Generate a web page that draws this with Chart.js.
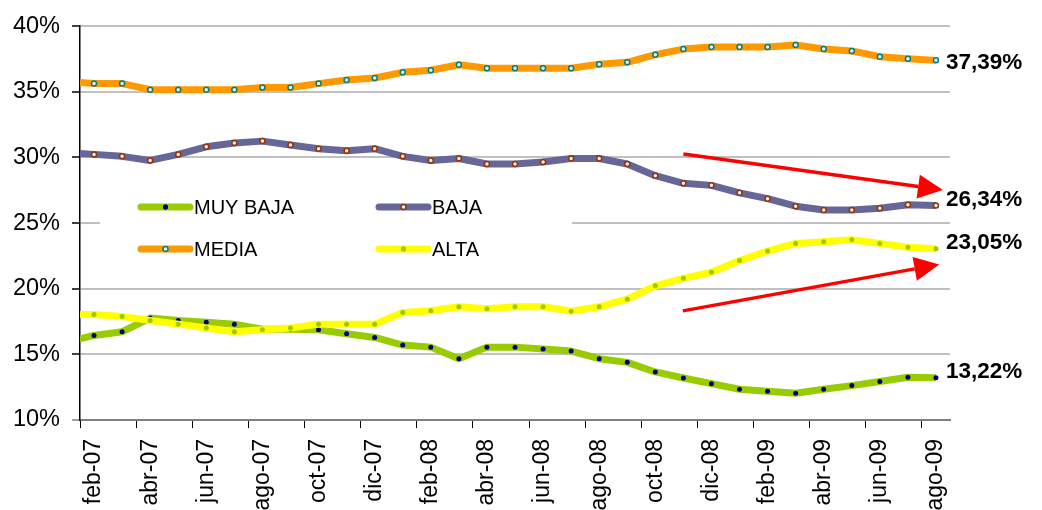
<!DOCTYPE html>
<html>
<head>
<meta charset="utf-8">
<script src="https://cdn.jsdelivr.net/npm/chart.js@4.4.1/dist/chart.umd.min.js"></script>
<style>
  body { margin: 0; background: #fff; }
  #wrap { width: 1042px; height: 510px; }
</style>
</head>
<body>
<div id="wrap"><canvas id="chart"></canvas></div>
<script>
// months (ene-07 only feeds the line stub that enters from the left edge)
const months = ['ene-07', 'feb-07', 'mar-07', 'abr-07', 'may-07', 'jun-07', 'jul-07', 'ago-07', 'sep-07', 'oct-07', 'nov-07', 'dic-07',
    'ene-08', 'feb-08', 'mar-08', 'abr-08', 'may-08', 'jun-08', 'jul-08', 'ago-08', 'sep-08', 'oct-08', 'nov-08', 'dic-08',
    'ene-09', 'feb-09', 'mar-09', 'abr-09', 'may-09', 'jun-09', 'jul-09', 'ago-09'];

const muyBaja = [15.94, 16.44, 16.72, 17.76, 17.58, 17.45, 17.30, 16.92, 16.92, 16.87, 16.57, 16.29, 15.71, 15.55, 14.67, 15.55,
    15.55, 15.40, 15.25, 14.67, 14.39, 13.66, 13.20, 12.77, 12.34, 12.19, 12.04, 12.34, 12.62, 12.93, 13.25, 13.22];
const baja = [30.38, 30.23, 30.08, 29.77, 30.23, 30.81, 31.09, 31.24, 30.94, 30.66, 30.51, 30.66, 30.08, 29.77, 29.92, 29.50,
    29.50, 29.65, 29.92, 29.92, 29.50, 28.61, 28.03, 27.87, 27.30, 26.86, 26.28, 26.00, 26.00, 26.13, 26.40, 26.34];
const media = [35.78, 35.62, 35.62, 35.16, 35.16, 35.16, 35.16, 35.32, 35.32, 35.62, 35.90, 36.05, 36.48, 36.64, 37.06, 36.79,
    36.79, 36.79, 36.79, 37.09, 37.24, 37.82, 38.25, 38.41, 38.41, 38.41, 38.56, 38.25, 38.10, 37.67, 37.52, 37.39];
const alta = [18.04, 18.04, 17.89, 17.58, 17.30, 17.00, 16.72, 16.87, 17.00, 17.30, 17.30, 17.30, 18.19, 18.32, 18.62, 18.47,
    18.62, 18.62, 18.29, 18.62, 19.20, 20.22, 20.79, 21.25, 22.14, 22.87, 23.45, 23.58, 23.73, 23.45, 23.15, 23.05];

const yTicks = [10, 15, 20, 25, 30, 35, 40];

// red trend arrows, [x index, value] from -> to
const trendArrows = [
    { from: [22.0, 30.26], to: [31.25, 27.52] },
    { from: [21.98, 18.31], to: [31.12, 21.85] }
];

const FONT = '"Liberation Sans", Arial, sans-serif';
Chart.defaults.font.family = FONT;
Chart.defaults.color = '#000';

function series(label, data, line, marker, ring, order) {
    return {
        label: label,
        data: data,
        borderColor: line,
        backgroundColor: line,
        borderWidth: 7,
        borderJoinStyle: 'round',
        tension: 0,
        pointRadius: 2.5,
        pointBorderWidth: ring ? 1.5 : 0,
        pointBackgroundColor: ring ? '#e8f0f0' : marker,
        pointBorderColor: marker,
        clip: 0,
        order: order
    };
}

// legend drawn inside the plot, two columns
const innerLegend = {
    id: 'innerLegend',
    beforeDatasetsDraw(chart) {
        const { ctx, chartArea } = chart;
        const x0 = chartArea.left + 61;
        const y0 = chartArea.top + 181;
        ctx.save();
        ctx.fillStyle = '#fff';
        ctx.fillRect(chartArea.left + 20, chartArea.top + 158, 472, 88);
        const slots = [[0, 0], [1, 0], [0, 1], [1, 1]];
        chart.data.datasets.forEach((ds, i) => {
            const x = x0 + slots[i][0] * 238;
            const y = y0 + slots[i][1] * 42;
            ctx.strokeStyle = ds.borderColor;
            ctx.lineWidth = 7;
            ctx.lineCap = 'round';
            ctx.beginPath();
            ctx.moveTo(x, y);
            ctx.lineTo(x + 49, y);
            ctx.stroke();
            ctx.beginPath();
            ctx.arc(x + 24.5, y, 2.5, 0, Math.PI * 2);
            ctx.fillStyle = ds.pointBackgroundColor;
            ctx.fill();
            if (ds.pointBorderWidth) {
                ctx.lineWidth = 1.5;
                ctx.strokeStyle = ds.pointBorderColor;
                ctx.stroke();
            } else {
                ctx.fillStyle = ds.pointBorderColor;
                ctx.fill();
            }
            ctx.fillStyle = '#000';
            ctx.font = '20px ' + FONT;
            ctx.textBaseline = 'middle';
            ctx.fillText(ds.label, x + 53, y + 1);
        });
        ctx.restore();
    }
};

// end value labels and the two red arrows
const annotations = {
    id: 'annotations',
    afterDatasetsDraw(chart) {
        const { ctx, scales } = chart;
        ctx.save();
        ctx.font = 'bold 22.5px ' + FONT;
        ctx.fillStyle = '#000';
        ctx.textBaseline = 'middle';
        chart.data.datasets.forEach((ds, i) => {
            const pts = chart.getDatasetMeta(i).data;
            const last = pts[pts.length - 1];
            const v = ds.data[ds.data.length - 1];
            const dy = ds.label === 'MEDIA' ? 2 : -6;
            ctx.fillText(v.toFixed(2).replace('.', ',') + '%', last.x + 10, last.y + dy);
        });

        ctx.strokeStyle = '#ff0000';
        ctx.fillStyle = '#ff0000';
        trendArrows.forEach(a => {
            const x1 = scales.x.getPixelForValue(a.from[0]);
            const y1 = scales.y.getPixelForValue(a.from[1]);
            const x2 = scales.x.getPixelForValue(a.to[0]);
            const y2 = scales.y.getPixelForValue(a.to[1]);
            const ang = Math.atan2(y2 - y1, x2 - x1);
            const len = 25, half = 12;
            const bx = x2 - len * Math.cos(ang);
            const by = y2 - len * Math.sin(ang);
            ctx.lineWidth = 3.5;
            ctx.beginPath();
            ctx.moveTo(x1, y1);
            ctx.lineTo(bx, by);
            ctx.stroke();
            ctx.beginPath();
            ctx.moveTo(x2, y2);
            ctx.lineTo(bx + half * Math.sin(ang), by - half * Math.cos(ang));
            ctx.lineTo(bx - half * Math.sin(ang), by + half * Math.cos(ang));
            ctx.closePath();
            ctx.fill();
        });
        ctx.restore();
    }
};

new Chart(document.getElementById('chart'), {
    type: 'line',
    data: {
        labels: months,
        datasets: [
            series('MUY BAJA', muyBaja, '#99cc00', '#000080', false, 1),
            series('BAJA', baja, '#666699', '#993300', true, 2),
            series('MEDIA', media, '#ff9900', '#008080', true, 3),
            series('ALTA', alta, '#ffff00', '#99cc00', false, 0)
        ]
    },
    options: {
        responsive: true,
        maintainAspectRatio: false,
        animation: false,
        layout: { padding: { top: 25, right: 92, left: 0, bottom: 0 } },
        plugins: {
            legend: { display: false },
            tooltip: { enabled: false }
        },
        scales: {
            x: {
                min: 'feb-07',
                offset: true,
                afterFit(scale) { scale.height = 90; },
                grid: {
                    offset: true,
                    drawOnChartArea: false,
                    tickLength: 8,
                    tickWidth: 1,
                    tickColor: ctx => (ctx.index !== undefined && ctx.index % 2 === 0) ? '#000' : 'rgba(0,0,0,0)'
                },
                border: { color: '#808080', width: 2 },
                ticks: {
                    autoSkip: false,
                    minRotation: 90,
                    maxRotation: 90,
                    padding: 11,
                    font: { size: 23 },
                    callback(value, index) {
                        return index % 2 === 0 ? this.getLabelForValue(value) : '';
                    }
                }
            },
            y: {
                min: 10,
                max: 40,
                afterFit(scale) { scale.width = 80; },
                afterBuildTicks(scale) { scale.ticks = yTicks.map(v => ({ value: v })); },
                grid: {
                    color: ctx => ctx.tick && ctx.tick.value === 10 ? 'rgba(0,0,0,0)' : '#c0c0c0',
                    lineWidth: 2,
                    tickLength: 8,
                    tickWidth: 1.5,
                    tickColor: ctx => ctx.tick && ctx.tick.value === 10 ? '#808080' : '#000'
                },
                border: { color: '#000', width: 1.5 },
                ticks: {
                    padding: 12,
                    font: { size: 23.5 },
                    callback: v => v + '%'
                }
            }
        }
    },
    plugins: [innerLegend, annotations]
});
</script>
</body>
</html>
